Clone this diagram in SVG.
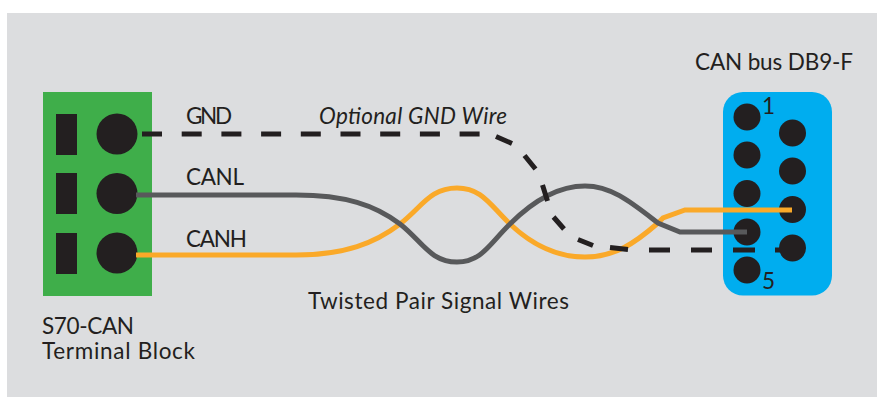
<svg xmlns="http://www.w3.org/2000/svg" width="877" height="397" viewBox="0 0 877 397">
<style>
text{font-family:"Lato","Noto Sans",sans-serif;font-size:22.500px;fill:#231f20}
.d{fill:#231f20}
.w{fill:none;stroke-width:5}
</style>
<rect width="877" height="397" fill="#fff"/>
<rect x="7" y="13" width="870" height="384" fill="#dcdddf"/>
<g id="terminal-block">
<rect x="43" y="92" width="109" height="204" fill="#3fae4a"/>
<rect class="d" x="56" y="114" width="21" height="41"/>
<rect class="d" x="56" y="173" width="21" height="41"/>
<rect class="d" x="56" y="233" width="21" height="41"/>
<circle class="d" cx="117" cy="134" r="20.500"/>
<circle class="d" cx="117" cy="193.500" r="20.500"/>
<circle class="d" cx="117" cy="253" r="20.500"/>
<text x="42" y="334" textLength="92">S70-CAN</text>
<text x="42" y="359" textLength="153">Terminal Block</text>
</g>
<g id="db9">
<rect x="723" y="92" width="109" height="203.500" rx="20" fill="#00adef"/>
<circle class="d" cx="747" cy="117" r="13.500"/>
<circle class="d" cx="747" cy="155" r="13.500"/>
<circle class="d" cx="747" cy="193.500" r="13.500"/>
<circle class="d" cx="747" cy="232" r="13.500"/>
<circle class="d" cx="747" cy="270" r="13.500"/>
<circle class="d" cx="792.500" cy="133" r="13.500"/>
<circle class="d" cx="792.500" cy="171" r="13.500"/>
<circle class="d" cx="792.500" cy="209.500" r="13.500"/>
<circle class="d" cx="792.500" cy="248" r="13.500"/>
<text x="762" y="114" textLength="11">1</text>
<text x="762" y="289" textLength="11">5</text>
<text x="695" y="70" textLength="158">CAN bus DB9-F</text>
</g>
<g id="connectors">
<path class="w" stroke="#faa929" d="M136 255H296C345 255 375 243 400 224C422 207 430 188 457 188C482 188 490 205 510 224C530 243 555 257 585 257C615 257 635 243 658 223L663 218L685 210H792"/>
<path class="w" stroke="#58595b" d="M136 195H296C345 195 375 205 400 224C422 241 430 262 457 262C482 262 490 243 510 224C530 204 555 186 585 186C612 186 632 203 658 223L680 232H747"/>
<path class="w" stroke="#231f20" stroke-dasharray="20 19.700" d="M142 134H480"/>
<path class="w" stroke="#231f20" d="M496 136.500L512 143.500M524.500 155.500L535.500 169M542.500 185L547.500 201M553.500 217L564 229M578 239.500L593 245.500M610 247.500L628 249.500M649 250H670M691 250H712M733 250H755M775 250H780"/>
</g>
<g id="labels">
<text x="186" y="124" textLength="46">GND</text>
<text x="186" y="185" textLength="58">CANL</text>
<text x="186" y="247" textLength="61">CANH</text>
<text x="319" y="124" textLength="188" font-style="italic">Optional GND Wire</text>
<text x="308" y="309" textLength="261">Twisted Pair Signal Wires</text>
</g>
</svg>
